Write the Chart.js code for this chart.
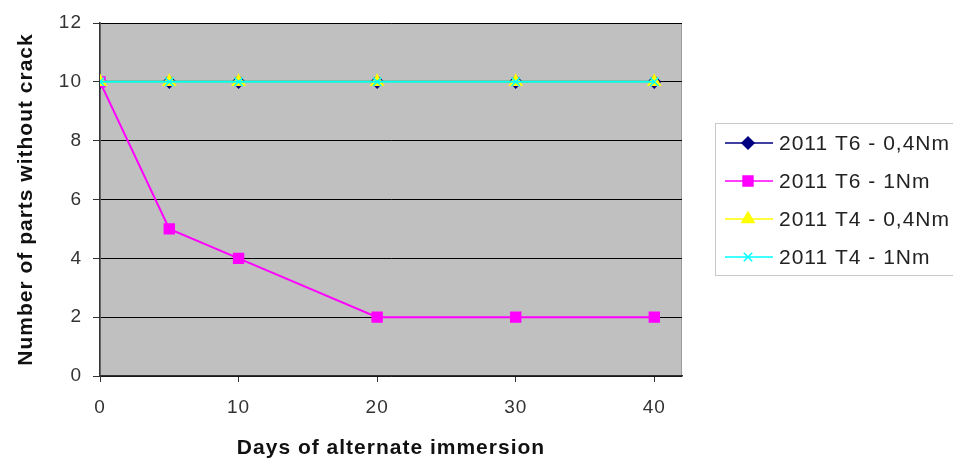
<!DOCTYPE html>
<html>
<head>
<meta charset="utf-8">
<script src="https://cdn.jsdelivr.net/npm/chart.js@4.4.1/dist/chart.umd.min.js"></script>
<style>
  body { margin: 0; background: #fff; }
  #wrap { width: 953px; height: 460px; position: relative; }
</style>
</head>
<body>
<div id="wrap"><canvas id="chart"></canvas></div>
<script>
// Data
const days = [0, 5, 10, 20, 30, 40];
const xTicks = [0, 10, 20, 30, 40];
const t6Low = [10, 10, 10, 10, 10, 10];
const t6High = [10, 5, 4, 2, 2, 2];
const t4Low = [10, 10, 10, 10, 10, 10];
const t4High = [10, 10, 10, 10, 10, 10];
const seriesNames = ['2011 T6 - 0,4Nm', '2011 T6 - 1Nm', '2011 T4 - 0,4Nm', '2011 T4 - 1Nm'];

const FONT = '"Liberation Sans", Arial, sans-serif';
const toPts = (vals) => vals.map((v, i) => ({ x: days[i], y: v }));

const styles = [
  { color: '#000080', point: 'rectRot', r: 6, order: 4 },
  { color: '#ff00ff', point: 'rect', r: 7, order: 3 },
  { color: '#ffff00', point: 'triangle', r: 7, order: 2 },
  { color: '#00ffff', point: 'crossRot', r: 6, order: 1 },
];
const series = [t6Low, t6High, t4Low, t4High];

// grey plot background + letter spacing
const plotBg = {
  id: 'plotBg',
  beforeDraw(chart) {
    const { ctx, chartArea: a } = chart;
    ctx.letterSpacing = '1px';
    ctx.save();
    ctx.fillStyle = '#c0c0c0';
    ctx.fillRect(a.left, a.top, a.right - a.left, a.bottom - a.top);
    ctx.strokeStyle = '#9a9a9a';
    ctx.lineWidth = 1;
    ctx.strokeRect(a.left + 0.5, a.top + 0.5, a.right - a.left - 1, a.bottom - a.top - 1);
    ctx.restore();
  }
};

// legend box on the right, line + marker like the original
const sideLegend = {
  id: 'sideLegend',
  afterDraw(chart) {
    const { ctx } = chart;
    ctx.save();
    ctx.letterSpacing = '1px';
    ctx.fillStyle = '#fff';
    ctx.strokeStyle = '#c8c8c8';
    ctx.lineWidth = 1;
    ctx.fillRect(715.5, 123.5, 260, 152);
    ctx.strokeRect(715.5, 123.5, 260, 152);
    chart.data.datasets.forEach((ds, i) => {
      const y = 143 + i * 38;
      ctx.strokeStyle = ds.borderColor;
      ctx.lineWidth = 1.5;
      ctx.beginPath();
      ctx.moveTo(725, y);
      ctx.lineTo(773, y);
      ctx.stroke();
      ctx.fillStyle = ds.pointBackgroundColor;
      ctx.strokeStyle = ds.borderColor;
      Chart.helpers.drawPoint(ctx, {
        pointStyle: ds.pointStyle, radius: ds.pointRadius, rotation: 0, borderWidth: 1.5
      }, 748, y);
      ctx.fillStyle = '#222';
      ctx.font = '21px ' + FONT;
      ctx.textBaseline = 'middle';
      ctx.textAlign = 'left';
      ctx.fillText(ds.label, 779, y + 1);
    });
    ctx.restore();
  }
};

new Chart(document.getElementById('chart'), {
  type: 'line',
  data: {
    datasets: series.map((vals, i) => ({
      label: seriesNames[i],
      data: toPts(vals),
      borderColor: styles[i].color,
      backgroundColor: styles[i].color,
      pointBackgroundColor: styles[i].color,
      pointBorderColor: styles[i].color,
      pointStyle: styles[i].point,
      pointRadius: styles[i].r,
      pointBorderWidth: 1.5,
      borderWidth: 2,
      order: styles[i].order,
      tension: 0,
    })),
  },
  options: {
    responsive: true,
    maintainAspectRatio: false,
    animation: false,
    layout: { padding: { left: 0, right: 271, top: 23, bottom: 0 } },
    plugins: { legend: { display: false }, tooltip: { enabled: false } },
    scales: {
      x: {
        type: 'linear',
        min: 0,
        max: 42,
        afterBuildTicks: (scale) => { scale.ticks = xTicks.map((v) => ({ value: v })); },
        afterFit: (scale) => { scale.height = 84; },
        ticks: { font: { family: FONT, size: 19 }, color: '#333', padding: 14, maxRotation: 0 },
        grid: { drawOnChartArea: false, drawTicks: true, tickLength: 6, tickColor: '#333' },
        border: { display: true, color: '#333', width: 1.5 },
        title: {
          display: true,
          text: 'Days of alternate immersion',
          font: { family: FONT, size: 21, weight: 'bold', lineHeight: 1 },
          color: '#111',
          padding: { top: 0, bottom: 1 },
        },
      },
      y: {
        min: 0,
        max: 12,
        ticks: { stepSize: 2, font: { family: FONT, size: 19 }, color: '#333', padding: 11 },
        afterFit: (scale) => { scale.width = 100; },
        grid: { color: '#000', lineWidth: 1, tickLength: 7, tickColor: '#333' },
        border: { display: true, color: '#333', width: 1.5 },
        title: {
          display: true,
          text: 'Number of parts without crack',
          font: { family: FONT, size: 21, weight: 'bold' },
          color: '#111',
          padding: { top: 14, bottom: 0 },
        },
      },
    },
  },
  plugins: [plotBg, sideLegend],
});
</script>
</body>
</html>
